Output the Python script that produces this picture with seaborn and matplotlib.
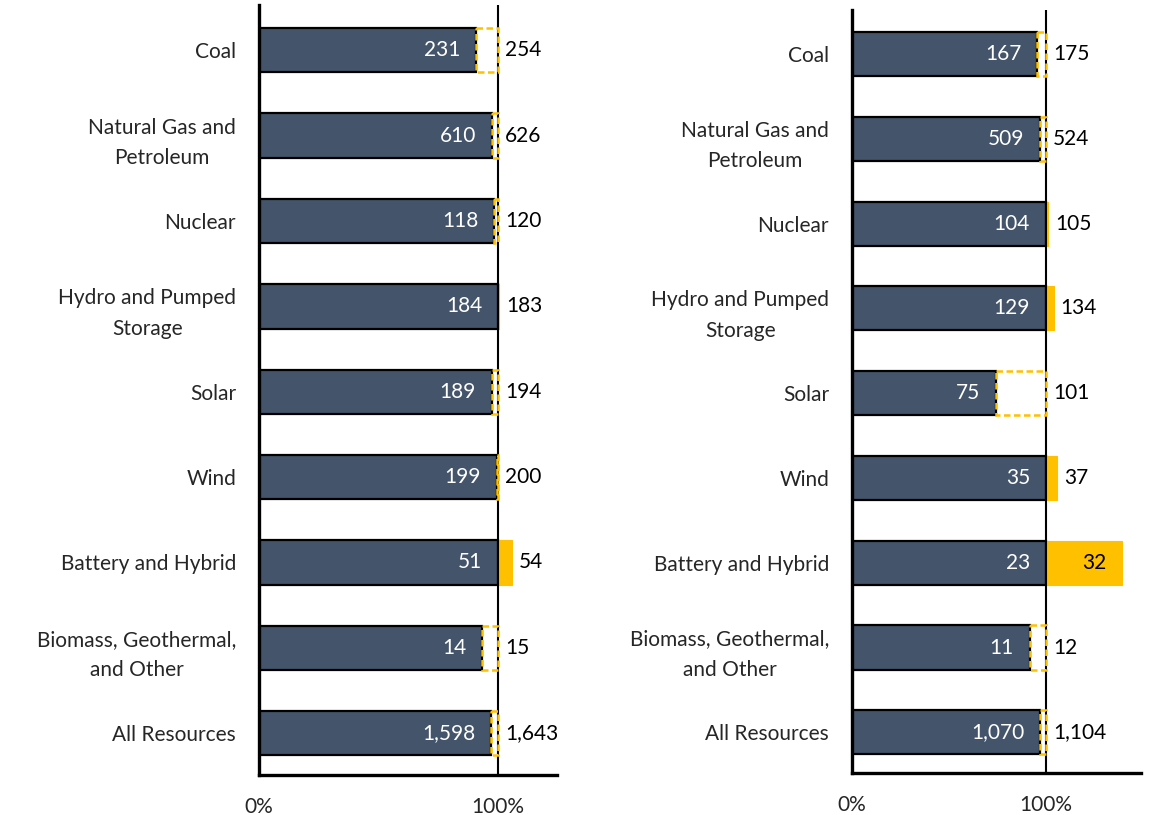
import matplotlib
matplotlib.use("Agg")
import matplotlib.pyplot as plt
import seaborn as sns

# --- data ---
categories = ["Coal", "Natural Gas and\nPetroleum", "Nuclear", "Hydro and Pumped\nStorage",
              "Solar", "Wind", "Battery and Hybrid", "Biomass, Geothermal,\nand Other",
              "All Resources"]
left_first = [231, 610, 118, 184, 189, 199, 51, 14, 1598]
left_second = [254, 626, 120, 183, 194, 200, 54, 15, 1643]
left_kind = ["gap", "gap", "gap", "over", "gap", "gap", "over", "gap", "gap"]
right_first = [167, 509, 104, 129, 75, 35, 23, 11, 1070]
right_second = [175, 524, 105, 134, 101, 37, 32, 12, 1104]
right_kind = ["gap", "gap", "over", "over", "gap", "over", "over", "gap", "gap"]

DARK = "#44546A"
YELLOW = "#FFC000"

sns.set_style("white")
plt.rcParams["font.family"] = ["Lato", "DejaVu Sans"]
plt.rcParams["font.size"] = 15


def fmt(v):
    return f"{v:,}"


def draw_panel(ax, first, second, kind, xmax, ylim):
    dark = [a / b if k == "gap" else 1.0 for a, b, k in zip(first, second, kind)]
    sns.barplot(x=dark, y=categories, color=DARK, saturation=1, width=0.52,
                edgecolor="black", linewidth=1.6, ax=ax, zorder=2)
    for i, (a, b, k, d) in enumerate(zip(first, second, kind, dark)):
        if k == "gap":
            ax.barh(i, 1 - d, left=d, height=0.52, fill=False, edgecolor=YELLOW,
                    linewidth=1.8, linestyle=(0, (2.6, 1.4)), zorder=5)
            end = 1.0
        else:
            w = abs(b - a) / a
            ax.barh(i, w, left=1, height=0.52, color=YELLOW, edgecolor=YELLOW,
                    linewidth=0.8, zorder=3)
            end = 1 + w
        # first value, white, inside end of dark bar
        ax.annotate(fmt(a), (d, i), xytext=(-11.5, 0), textcoords="offset points",
                    ha="right", va="center", color="white", zorder=6)
        # second value
        px_per_unit = ax.get_window_extent().width / xmax
        seg_px = (end - 1) * px_per_unit
        if seg_px > 55:
            ax.annotate(fmt(b), (end, i), xytext=(-11.5, 0), textcoords="offset points",
                        ha="right", va="center", color="black", zorder=6)
        else:
            ax.annotate(fmt(b), (end, i), xytext=(5, 0), textcoords="offset points",
                        ha="left", va="center", color="black", zorder=6)

    ax.axvline(1, color="black", linewidth=1.5, zorder=4)
    ax.set_xlim(0, xmax)
    ax.set_ylim(*ylim)
    ax.set_xticks([0, 1])
    ax.set_xticklabels(["0%", "100%"])
    ax.set_xlabel("")
    ax.set_ylabel("")
    ax.tick_params(axis="both", length=0)
    ax.tick_params(axis="x", pad=16)
    ax.tick_params(axis="y", pad=16.5)
    for lbl in ax.get_yticklabels():
        lbl.set_multialignment("center")
        lbl.set_linespacing(1.65)
    sns.despine(ax=ax)
    for side in ["left", "bottom"]:
        ax.spines[side].set_linewidth(2.4)
        ax.spines[side].set_color("black")
        ax.spines[side].set_zorder(7)


fig = plt.figure(figsize=(11.53, 8.15), dpi=100)
ax_left = fig.add_axes([259 / 1153, 1 - 775 / 815, (557 - 259) / 1153, (775 - 5) / 815])
ax_right = fig.add_axes([852 / 1153, 1 - 773 / 815, (1141 - 852) / 1153, (773 - 10) / 815])

draw_panel(ax_left, left_first, left_second, left_kind, (557 - 259) / 239, (8.49, -0.53))
draw_panel(ax_right, right_first, right_second, right_kind, (1141 - 852) / 194, (8.48, -0.52))

fig.savefig("out.png", dpi=100)
